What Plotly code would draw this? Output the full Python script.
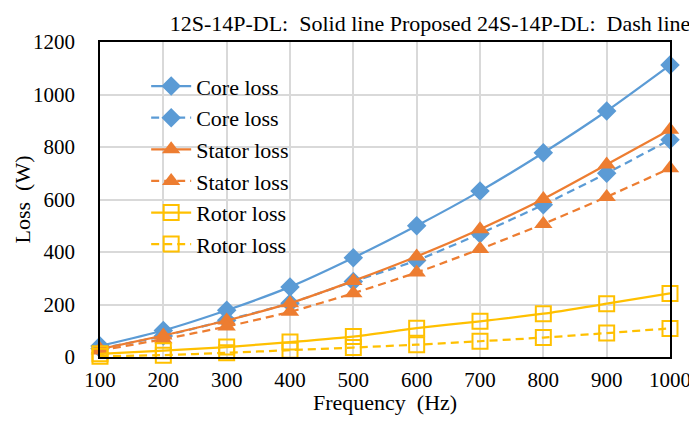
import plotly.graph_objects as go

freq = [100, 200, 300, 400, 500, 600, 700, 800, 900, 1000]
core_solid = [42, 101, 178, 267, 378, 500, 632, 778, 937, 1112]
core_dash = [32, 80, 140, 205, 288, 368, 470, 580, 700, 828]
stator_solid = [30, 82, 139, 205, 290, 383, 487, 602, 733, 866]
stator_dash = [25, 68, 116, 172, 243, 322, 411, 507, 610, 719]
rotor_solid = [12, 24, 38, 57, 78, 110, 136, 165, 203, 242]
rotor_dash = [3, 7, 16, 26, 36, 47, 60, 74, 91, 109]

BLUE = "#5B9BD5"
ORANGE = "#ED7D31"
YELLOW = "#FFC000"
FONT = "Liberation Serif"

# page body has an 8px default margin; figure sized/positioned to compensate
W, H = 689, 415
L, R, T, B = 92, 27, 34, 66
PW, PH = W - L - R, H - T - B

series = [
    ("Core loss", core_solid, BLUE, "solid", "diamond", 15),
    ("Core loss", core_dash, BLUE, "8px,5px", "diamond", 15),
    ("Stator loss", stator_solid, ORANGE, "solid", "triangle-up", 16),
    ("Stator loss", stator_dash, ORANGE, "8px,5px", "triangle-up", 16),
    ("Rotor loss", rotor_solid, YELLOW, "solid", "square-open", 15),
    ("Rotor loss", rotor_dash, YELLOW, "8px,5px", "square-open", 15),
]

fig = go.Figure()
for i, (name, vals, col, dash, sym, size) in enumerate(series):
    fig.add_trace(go.Scatter(
        x=freq, y=vals, name=name, mode="lines+markers",
        legendgroup=f"g{i}",
        line=dict(color=col, width=2.25, dash=dash, shape="spline", smoothing=0.6),
        marker=dict(symbol=sym, size=size, color=col,
                    line=dict(color=col, width=2 if "open" in sym else 0)),
        cliponaxis=False,
    ))

fig.update_layout(
    width=W, height=H,
    margin=dict(l=L, r=R, t=T, b=B, autoexpand=False),
    paper_bgcolor="white", plot_bgcolor="white",
    font=dict(family=FONT, size=21, color="black"),
    title=dict(text="12S-14P-DL:  Solid line Proposed 24S-14P-DL:  Dash line",
               x=422 / W, xanchor="center", y=1 - 15 / H, yanchor="middle",
               xref="container", yref="container",
               font=dict(family=FONT, size=22, color="black")),
    legend=dict(x=0.081, y=0.926, xanchor="left", yanchor="top",
                bgcolor="rgba(0,0,0,0)", font=dict(family=FONT, size=22),
                traceorder="grouped", tracegroupgap=0, itemwidth=40),
    showlegend=True,
    annotations=[
        dict(text="Frequency  (Hz)", xref="paper", yref="paper",
             x=0.5, y=-(394 - (T + PH)) / PH, xanchor="center", yanchor="middle",
             showarrow=False, font=dict(family=FONT, size=22, color="black")),
        dict(text="Loss  (W)", xref="paper", yref="paper", textangle=-90,
             x=(14 - L) / PW, y=0.5, xanchor="center", yanchor="middle",
             showarrow=False, font=dict(family=FONT, size=22, color="black")),
    ],
)
fig.update_xaxes(
    range=[100, 1000], tickmode="linear", tick0=100, dtick=100,
    showgrid=True, gridcolor="#D9D9D9", gridwidth=2,
    showline=True, linecolor="black", linewidth=1.5, mirror=True,
    ticks="", zeroline=False, automargin=False, ticklabelstandoff=3,
    tickfont=dict(family=FONT, size=21),
)
fig.update_yaxes(
    range=[0, 1200], tickmode="linear", tick0=0, dtick=200,
    showgrid=True, gridcolor="#D9D9D9", gridwidth=2,
    showline=True, linecolor="black", linewidth=1.5, mirror=True,
    ticks="", zeroline=False, automargin=False, ticklabelstandoff=19,
    tickfont=dict(family=FONT, size=21),
)

fig.write_html("out.html")
